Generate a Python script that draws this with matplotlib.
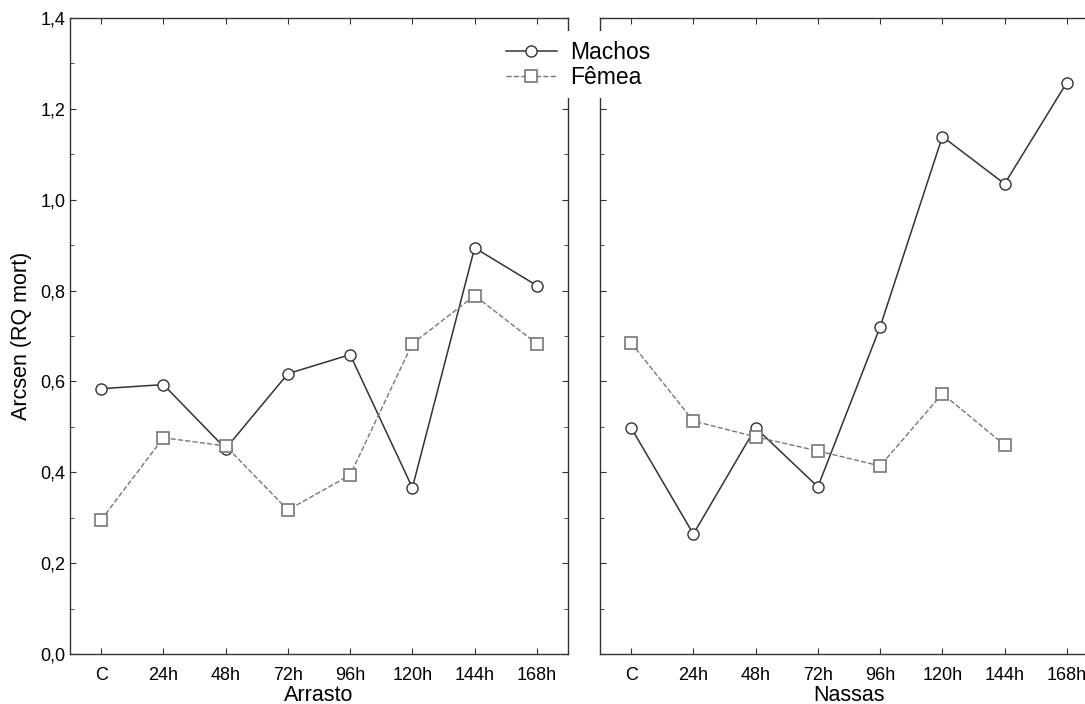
import matplotlib
matplotlib.use("Agg")
import matplotlib.pyplot as plt
from matplotlib.ticker import MultipleLocator, FuncFormatter

plt.rcParams["font.family"] = ["Liberation Sans", "DejaVu Sans"]

# tempo de exposicao
tempos = ["C", "24h", "48h", "72h", "96h", "120h", "144h", "168h"]

# Arrasto
arrasto_machos = [0.584, 0.593, 0.452, 0.617, 0.659, 0.366, 0.894, 0.811]
arrasto_femea = [0.295, 0.476, 0.458, 0.317, 0.394, 0.683, 0.789, 0.683]

# Nassas (sem femea em 168h)
nassas_machos = [0.498, 0.264, 0.498, 0.368, 0.720, 1.139, 1.035, 1.258]
nassas_femea = [0.685, 0.513, 0.478, 0.447, 0.414, 0.573, 0.460]

fig = plt.figure(figsize=(10.85, 7.04), dpi=100)
ax1 = fig.add_axes([70 / 1085, 50 / 704, 498 / 1085, 636 / 704])
ax2 = fig.add_axes([600 / 1085, 50 / 704, 498 / 1085, 636 / 704])

comma = FuncFormatter(lambda v, p: f"{v:.1f}".replace(".", ","))

for ax, machos, femea, nome in [(ax1, arrasto_machos, arrasto_femea, "Arrasto"),
                                (ax2, nassas_machos, nassas_femea, "Nassas")]:
    ax.plot(range(len(machos)), machos, "-o", color="#333333", lw=1.1,
            ms=8, mfc="white", mec="#333333", mew=1.0, label="Machos")
    ax.plot(range(len(femea)), femea, "--s", color="#777777", lw=1.0,
            ms=8, mfc="white", mec="#777777", mew=1.2, label="Fêmea")
    ax.set_xlim(-0.5, 7.5)
    ax.set_ylim(0, 1.4)
    ax.set_xticks(range(len(tempos)))
    ax.set_xticklabels(tempos)
    ax.yaxis.set_major_locator(MultipleLocator(0.2))
    ax.yaxis.set_minor_locator(MultipleLocator(0.1))
    ax.yaxis.set_major_formatter(comma)
    ax.tick_params(which="both", direction="in", top=True, right=True,
                   labelsize=13, color="#333333")
    ax.tick_params(which="major", length=4)
    ax.tick_params(which="minor", length=3)
    ax.tick_params(axis="x", pad=9)
    ax.set_xlabel(nome, fontsize=15.5, labelpad=1)
    for s in ax.spines.values():
        s.set_color("#333333")
        s.set_linewidth(1.0)

ax2.tick_params(labelleft=False)
ax1.set_ylabel("Arcsen (RQ mort)", fontsize=15.5, labelpad=6)

h, l = ax1.get_legend_handles_labels()
leg = fig.legend(h, l, loc="center", bbox_to_anchor=(0.533, 0.908),
                 fontsize=16.5, frameon=True, framealpha=1, edgecolor="none",
                 handlelength=2.2, borderpad=0.4, labelspacing=0.1,
                 handletextpad=0.6)
leg.get_frame().set_boxstyle("square", pad=0)

fig.savefig("out.png", dpi=100)
